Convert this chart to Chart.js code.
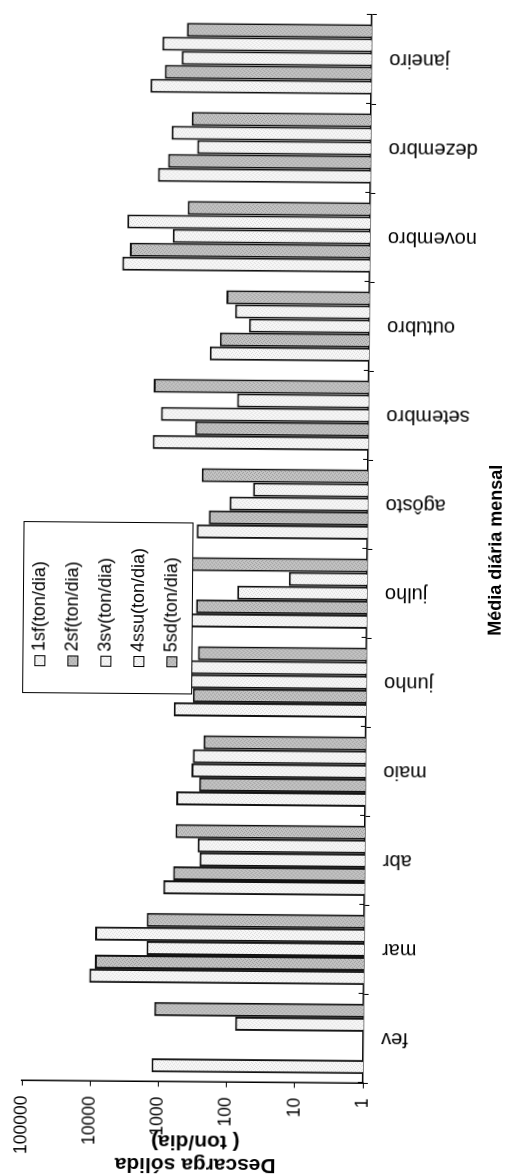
<!DOCTYPE html>
<html lang="pt">
<head>
<meta charset="UTF-8">
<title>Descarga sólida - média diária mensal</title>
<style>
  html, body { margin: 0; padding: 0; background: #fff; overflow: hidden; }
  #page { position: absolute; left: 0; top: 0; width: 512px; height: 1176px; transform: rotate(0.48deg); }
  #sheet { position: absolute; left: 0; top: 0; width: 1176px; height: 512px;
           transform-origin: 0 0; transform: translate(0, 1176px) rotate(-90deg); }
</style>
<script src="https://cdn.jsdelivr.net/npm/chart.js"></script>
</head>
<body>
<div id="page"><div id="sheet"><canvas id="graphic" width="1176" height="512"></canvas></div></div>
<script>
// monthly mean daily sediment discharge (ton/dia), log scale
const months = ["fev", "mar", "abr", "maio", "junho", "julho", "agôsto", "setembro", "outubro", "novembro", "dezembro", "janeiro"];
const s1sf  = [1260, 10600, 890, 590, 660, 400, 318, 1440, 216, 4240, 1310, 1730];
const s2sf  = [null, 8800, 640, 273, 348, 318, 212, 348, 154, 3300, 935, 1070];
const s3sv  = [null, 1540, 264, 355, 400, 80, 106, 1100, 58, 780, 350, 605];
const s4ssu = [76, 8800, 283, 340, 400, 14, 48, 85, 93, 3630, 835, 1170];
const s5sd  = [1170, 1540, 600, 240, 295, 400, 274, 1420, 125, 475, 425, 512];
const seriesNames = ["1sf(ton/dia)", "2sf(ton/dia)", "3sv(ton/dia)", "4ssu(ton/dia)", "5sd(ton/dia)"];
const logTicks = [1, 10, 100, 1000, 10000, 100000];

const FONT = '"Liberation Sans", Arial, sans-serif';
Chart.defaults.font.family = FONT;
Chart.defaults.color = "#000";

// stippled fills, like the printed bar shading
function stipple(base, dots) {
  const c = document.createElement("canvas");
  c.width = 4; c.height = 4;
  const g = c.getContext("2d");
  g.fillStyle = base;
  g.fillRect(0, 0, 4, 4);
  g.fillStyle = dots;
  g.fillRect(0, 0, 1, 1);
  g.fillRect(2, 1, 1, 1);
  g.fillRect(1, 3, 1, 1);
  g.fillRect(3, 2, 1, 1);
  return g.createPattern(c, "repeat");
}
const lightFill = stipple("#f8f8f8", "#dcdcdc");
const darkFill = stipple("#c4c4c4", "#9c9c9c");
const fills = [lightFill, darkFill, lightFill, lightFill, darkFill];
const values = [s1sf, s2sf, s3sv, s4ssu, s5sd];

const datasets = values.map((v, i) => ({
  label: seriesNames[i],
  data: v,
  backgroundColor: fills[i],
  borderColor: "#111",
  borderWidth: 2,
  categoryPercentage: 0.79,
  barPercentage: 1.0
}));

const decorations = {
  id: "decorations",
  afterDatasetsDraw(chart) {
    const ctx = chart.ctx;
    const area = chart.chartArea;

    // inner half of the category tick marks
    ctx.save();
    ctx.strokeStyle = "#000";
    ctx.lineWidth = 1;
    const step = (area.right - area.left) / months.length;
    for (let i = 0; i <= months.length; i++) {
      const x = Math.round(area.left + step * i) + 0.5;
      ctx.beginPath();
      ctx.moveTo(x, area.bottom - 5);
      ctx.lineTo(x, area.bottom);
      ctx.stroke();
    }

    // legend box inside the plot
    const lx = 481, ly = 23, lw = 171, lh = 169;
    ctx.fillStyle = "#fff";
    ctx.fillRect(lx, ly, lw, lh);
    ctx.strokeRect(lx + 0.5, ly + 0.5, lw, lh);
    ctx.font = "18px " + FONT;
    ctx.textAlign = "left";
    ctx.textBaseline = "middle";
    seriesNames.forEach((name, i) => {
      const y = 40 + 33 * i;
      ctx.fillStyle = fills[i];
      ctx.fillRect(508, y - 5, 10, 10);
      ctx.strokeRect(508.5, y - 4.5, 10, 10);
      ctx.fillStyle = "#000";
      ctx.fillText(name, 523, y);
    });

    // axis titles
    ctx.font = "bold 21px " + FONT;
    ctx.textAlign = "center";
    ctx.save();
    ctx.translate(11, 200);
    ctx.rotate(-Math.PI / 2);
    ctx.fillText("Descarga sólida", 0, 0);
    ctx.restore();
    ctx.save();
    ctx.translate(34, 200);
    ctx.rotate(-Math.PI / 2);
    ctx.fillText("( ton/dia)", 0, 0);
    ctx.restore();

    ctx.font = "bold 18px " + FONT;
    ctx.fillText("Média diária mensal", (area.left + area.right) / 2, 496);
    ctx.restore();
  }
};

new Chart(document.getElementById("graphic"), {
  type: "bar",
  data: { labels: months, datasets },
  plugins: [decorations],
  options: {
    responsive: false,
    animation: false,
    layout: { padding: { top: 26, right: 14, left: 0, bottom: 0 } },
    plugins: { legend: { display: false }, tooltip: { enabled: false } },
    scales: {
      x: {
        grid: { drawOnChartArea: false, tickLength: 5, color: "#000" },
        border: { color: "#000", width: 1.5 },
        ticks: { minRotation: 90, maxRotation: 90, autoSkip: false, padding: 13, font: { size: 20 } },
        afterFit(scale) { scale.height = 512 - 367; }
      },
      y: {
        type: "logarithmic",
        min: 1,
        max: 100000,
        afterBuildTicks(scale) { scale.ticks = logTicks.map(v => ({ value: v })); },
        grid: { drawOnChartArea: false, tickLength: 5, color: "#000" },
        border: { color: "#000", width: 1.5 },
        ticks: { padding: 10, font: { size: 17.5 }, callback: v => String(v) },
        afterFit(scale) { scale.width = 93.5; }
      }
    }
  }
});
</script>
</body>
</html>
